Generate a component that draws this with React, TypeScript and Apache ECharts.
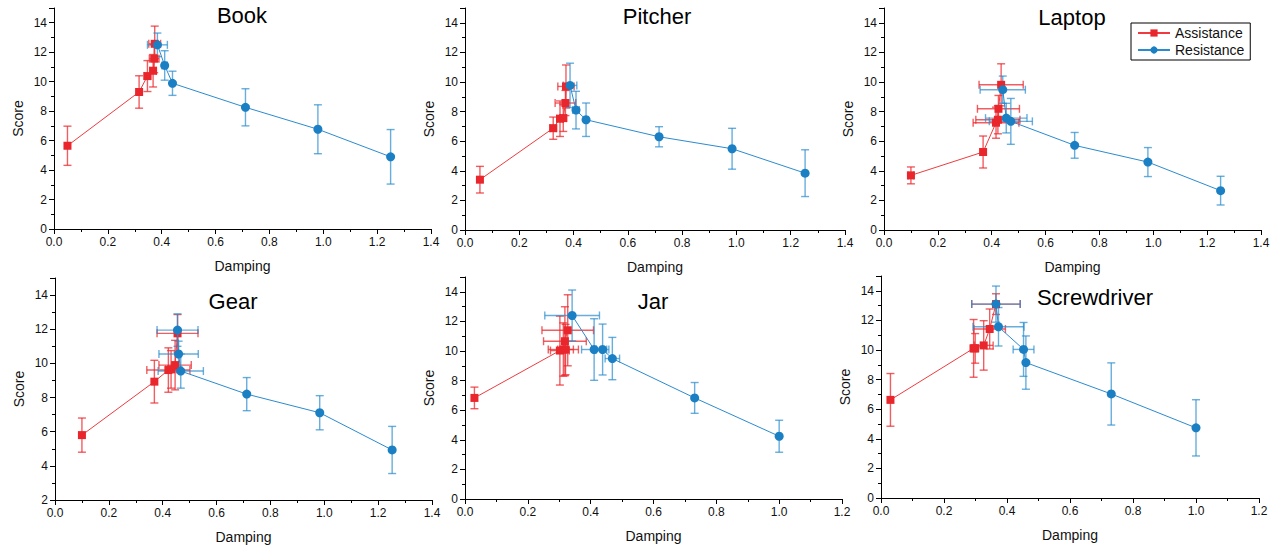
import React, { useEffect, useRef } from "react";
import * as echarts from "echarts";

// Each point: [damping, score, dampingError, scoreError]
type Pt = [number, number, number, number];

const bookAssistance: Pt[] = [
  [0.05, 5.65, 0, 1.33],
  [0.316, 9.3, 0.008, 1.1],
  [0.347, 10.38, 0.012, 1.05],
  [0.368, 10.74, 0.012, 1.1],
  [0.372, 11.56, 0.018, 0.95],
  [0.374, 12.57, 0.022, 1.2],
];
const bookResistance: Pt[] = [
  [0.384, 12.5, 0.037, 0.8],
  [0.411, 11.1, 0.01, 1.0],
  [0.44, 9.89, 0, 0.82],
  [0.711, 8.26, 0, 1.26],
  [0.98, 6.77, 0, 1.66],
  [1.25, 4.9, 0, 1.85],
];

const pitcherAssistance: Pt[] = [
  [0.055, 3.4, 0, 0.9],
  [0.325, 6.88, 0.012, 0.75],
  [0.35, 7.52, 0.012, 1.2],
  [0.362, 7.56, 0.012, 0.9],
  [0.37, 8.58, 0.038, 0.85],
  [0.372, 9.7, 0.03, 1.45],
];
const pitcherResistance: Pt[] = [
  [0.387, 9.77, 0.025, 1.5],
  [0.409, 8.1, 0.012, 1.27],
  [0.446, 7.45, 0, 1.13],
  [0.715, 6.3, 0, 0.68],
  [0.984, 5.49, 0, 1.38],
  [1.253, 3.84, 0, 1.58],
];

const laptopAssistance: Pt[] = [
  [0.1, 3.69, 0.01, 0.57],
  [0.368, 5.27, 0, 1.08],
  [0.416, 7.25, 0.085, 1.05],
  [0.423, 7.45, 0.082, 0.95],
  [0.425, 8.19, 0.078, 0.9],
  [0.435, 9.81, 0.082, 1.42],
];
const laptopResistance: Pt[] = [
  [0.441, 9.48, 0.084, 0.92],
  [0.454, 7.56, 0.077, 1.0],
  [0.471, 7.34, 0.08, 1.55],
  [0.708, 5.72, 0, 0.87],
  [0.98, 4.59, 0, 0.98],
  [1.25, 2.66, 0, 0.97],
];

const gearAssistance: Pt[] = [
  [0.1, 5.8, 0, 1.0],
  [0.369, 8.93, 0, 1.25],
  [0.421, 9.61, 0.08, 1.3],
  [0.431, 9.65, 0.02, 1.1],
  [0.446, 9.9, 0.06, 1.45],
  [0.455, 11.76, 0.076, 1.1],
];
const gearResistance: Pt[] = [
  [0.455, 11.95, 0.076, 0.95],
  [0.459, 10.55, 0.073, 0.75],
  [0.467, 9.55, 0.084, 1.0],
  [0.712, 8.2, 0, 0.97],
  [0.983, 7.11, 0, 1.0],
  [1.252, 4.93, 0, 1.38],
];

const jarAssistance: Pt[] = [
  [0.03, 6.83, 0, 0.73],
  [0.302, 10.03, 0.03, 2.33],
  [0.313, 10.1, 0.048, 1.8],
  [0.32, 10.1, 0.025, 1.7],
  [0.318, 10.66, 0.068, 2.33],
  [0.327, 11.4, 0.082, 2.4],
];
const jarResistance: Pt[] = [
  [0.341, 12.4, 0.087, 1.72],
  [0.411, 10.1, 0.04, 2.08],
  [0.438, 10.1, 0.02, 1.72],
  [0.469, 9.49, 0.023, 1.43],
  [0.731, 6.83, 0, 1.04],
  [1.0, 4.24, 0, 1.08],
];

const screwdriverAssistance: Pt[] = [
  [0.03, 6.63, 0, 1.78],
  [0.294, 10.11, 0.01, 1.95],
  [0.299, 10.11, 0.01, 1.0],
  [0.326, 10.31, 0.03, 1.67],
  [0.345, 11.42, 0.05, 1.35],
  [0.365, 13.1, 0.077, 0.7],
];
const screwdriverResistance: Pt[] = [
  [0.365, 13.1, 0.077, 1.22],
  [0.373, 11.57, 0.081, 1.3],
  [0.4525, 10.04, 0.033, 1.82],
  [0.46, 9.15, 0, 1.8],
  [0.731, 7.03, 0, 2.1],
  [1.0, 4.74, 0, 1.9],
];

const panelTitles = ["Book", "Pitcher", "Laptop", "Gear", "Jar", "Screwdriver"];
const panelAssistance = [bookAssistance, pitcherAssistance, laptopAssistance, gearAssistance, jarAssistance, screwdriverAssistance];
const panelResistance = [bookResistance, pitcherResistance, laptopResistance, gearResistance, jarResistance, screwdriverResistance];
const panelXMax = [1.4, 1.4, 1.4, 1.4, 1.2, 1.2];
const panelYMin = [0, 0, 0, 2, 0, 0];
const yMaxAll = 15;
const seriesNames = ["Assistance", "Resistance"];

// layout
const gridRects = [
  { left: 54, top: 8, width: 377, height: 221 },
  { left: 465, top: 8, width: 380, height: 222 },
  { left: 884, top: 8, width: 377, height: 222 },
  { left: 55, top: 278, width: 377, height: 222 },
  { left: 465, top: 277, width: 377, height: 222 },
  { left: 881, top: 276, width: 378, height: 222 },
];
const titlePos = [
  [242, 15],
  [657, 16],
  [1072, 17],
  [233, 301],
  [653, 301],
  [1095, 297],
];

const RED = "#e8262c";
const RED_LINE = "#ef3b3f";
const RED_ERR = "rgba(236,40,46,0.75)";
const BLUE = "#1b7fc4";
const BLUE_LINE = "#2b8bcf";
const BLUE_ERR = "rgba(40,140,205,0.7)";
const FONT = "Liberation Sans, Arial, sans-serif";

function errorRenderer(color: string) {
  return (params: any, api: any) => {
    const x = api.value(0);
    const y = api.value(1);
    const xe = api.value(2);
    const ye = api.value(3);
    const cap = 4;
    const style = { stroke: color, lineWidth: 1.4, fill: "none" };
    const children: any[] = [];
    if (ye > 0) {
      const t = api.coord([x, y + ye]);
      const b = api.coord([x, y - ye]);
      children.push({ type: "line", shape: { x1: t[0], y1: t[1], x2: b[0], y2: b[1] }, style });
      children.push({ type: "line", shape: { x1: t[0] - cap, y1: t[1], x2: t[0] + cap, y2: t[1] }, style });
      children.push({ type: "line", shape: { x1: b[0] - cap, y1: b[1], x2: b[0] + cap, y2: b[1] }, style });
    }
    if (xe > 0) {
      const l = api.coord([x - xe, y]);
      const r = api.coord([x + xe, y]);
      children.push({ type: "line", shape: { x1: l[0], y1: l[1], x2: r[0], y2: r[1] }, style });
      children.push({ type: "line", shape: { x1: l[0], y1: l[1] - cap, x2: l[0], y2: l[1] + cap }, style });
      children.push({ type: "line", shape: { x1: r[0], y1: r[1] - cap, x2: r[0], y2: r[1] + cap }, style });
    }
    return { type: "group", children };
  };
}

export default function App() {
  const ref = useRef<HTMLDivElement>(null);

  useEffect(() => {
    if (!ref.current) return;
    const chart = echarts.init(ref.current, undefined, { renderer: "svg" });

    const grid = gridRects.map((g) => ({ ...g, containLabel: false }));
    const axisLine = { show: true, onZero: false, lineStyle: { color: "#000", width: 1 } };
    const xAxis = panelXMax.map((mx, i) => ({
      type: "value",
      gridIndex: i,
      min: 0,
      max: mx,
      interval: 0.2,
      name: "Damping",
      nameLocation: "middle",
      nameGap: 30,
      nameTextStyle: { fontSize: 14, color: "#111", fontFamily: FONT },
      axisLine,
      axisTick: { show: true, length: 5, lineStyle: { color: "#000" } },
      minorTick: { show: true, splitNumber: 2, length: 3, lineStyle: { color: "#000" } },
      splitLine: { show: false },
      axisLabel: {
        fontSize: 12,
        color: "#111",
        fontFamily: FONT,
        margin: 7,
        formatter: (v: number) => v.toFixed(1),
      },
    }));
    const yAxis = panelYMin.map((mn, i) => ({
      type: "value",
      gridIndex: i,
      min: mn,
      max: yMaxAll,
      interval: 2,
      name: "Score",
      nameLocation: "middle",
      nameGap: 29,
      nameTextStyle: { fontSize: 14, color: "#111", fontFamily: FONT },
      axisLine,
      axisTick: { show: true, length: 5, lineStyle: { color: "#000" } },
      minorTick: { show: true, splitNumber: 2, length: 3, lineStyle: { color: "#000" } },
      splitLine: { show: false },
      axisLabel: { fontSize: 12, color: "#111", fontFamily: FONT, margin: 7, showMaxLabel: false },
    }));

    const series: any[] = [];
    panelTitles.forEach((_, i) => {
      series.push({
        type: "custom",
        name: "errA" + i,
        xAxisIndex: i,
        yAxisIndex: i,
        renderItem: errorRenderer(RED_ERR),
        data: panelAssistance[i],
        encode: { x: 0, y: 1 },
        z: 2,
        silent: true,
      });
      series.push({
        type: "custom",
        name: "errR" + i,
        xAxisIndex: i,
        yAxisIndex: i,
        renderItem: errorRenderer(BLUE_ERR),
        data: panelResistance[i],
        encode: { x: 0, y: 1 },
        z: 2,
        silent: true,
      });
      series.push({
        type: "line",
        name: seriesNames[0],
        xAxisIndex: i,
        yAxisIndex: i,
        data: panelAssistance[i].map((p) => [p[0], p[1]]),
        symbol: "rect",
        symbolSize: 8,
        itemStyle: { color: RED },
        lineStyle: { color: RED_LINE, width: 1 },
        z: 3,
      });
      series.push({
        type: "line",
        name: seriesNames[1],
        xAxisIndex: i,
        yAxisIndex: i,
        data: panelResistance[i].map((p) => [p[0], p[1]]),
        symbol: "circle",
        symbolSize: 9,
        itemStyle: { color: BLUE },
        lineStyle: { color: BLUE_LINE, width: 1 },
        z: 4,
      });
    });

    const graphic = panelTitles.map((t, i) => ({
      type: "text",
      x: titlePos[i][0],
      y: titlePos[i][1],
      style: {
        text: t,
        fontSize: 22,
        fontFamily: FONT,
        fill: "#000",
        textAlign: "center",
        textVerticalAlign: "middle",
      },
      z: 10,
    }));

    chart.setOption({
      animation: false,
      backgroundColor: "#fff",
      grid,
      xAxis,
      yAxis,
      series,
      graphic,
      legend: {
        data: seriesNames,
        orient: "vertical",
        left: 1131,
        top: 23,
        padding: [3, 6, 3, 6],
        itemGap: 3,
        itemWidth: 32,
        itemHeight: 9,
        borderColor: "#000",
        borderWidth: 1,
        borderRadius: 0,
        backgroundColor: "#fff",
        textStyle: { fontSize: 14, color: "#111", fontFamily: FONT },
      },
    });

    return () => chart.dispose();
  }, []);

  return (
    <div
      ref={ref}
      style={{ position: "absolute", left: 0, top: 0, width: 1281, height: 550 }}
    />
  );
}
